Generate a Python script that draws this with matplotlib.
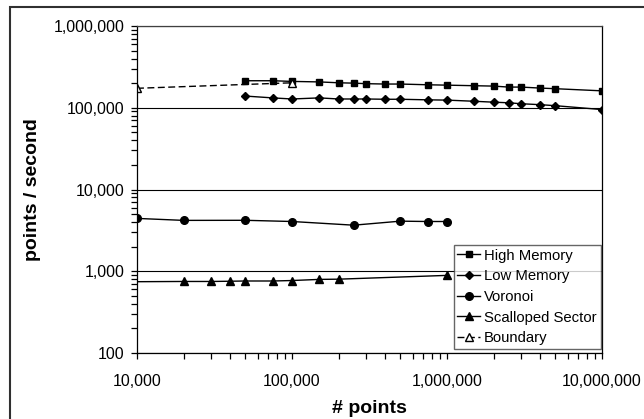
import matplotlib
matplotlib.use("Agg")
import matplotlib.pyplot as plt
from matplotlib.ticker import FuncFormatter, LogLocator, NullFormatter
from matplotlib.patches import Rectangle

plt.rcParams["font.family"] = ["Liberation Sans", "DejaVu Sans"]

# Data
hm_x = [50000, 75000, 100000, 150000, 200000, 250000, 300000, 400000, 500000,
        750000, 1000000, 1500000, 2000000, 2500000, 3000000, 4000000, 5000000, 10000000]
hm_y = [214000, 214000, 210000, 207000, 202000, 200000, 197000, 195000, 195000,
        191000, 189000, 186000, 184000, 179000, 179000, 174000, 171000, 161000]

lm_x = hm_x
lm_y = [139000, 132000, 128000, 132000, 128000, 128000, 128000, 127000, 127000,
        125000, 124000, 120000, 117000, 115000, 112000, 109000, 106000, 95000]

vor_x = [10000, 20000, 50000, 100000, 250000, 500000, 750000, 1000000]
vor_y = [4430, 4190, 4200, 4060, 3660, 4100, 4060, 4060]

ss_x = [5000, 20000, 30000, 40000, 50000, 75000, 100000, 150000, 200000, 1000000]
ss_y = [740, 750, 750, 755, 760, 760, 770, 795, 800, 890]

bd_x = [10000, 100000]
bd_y = [173000, 202000]

W, H = 644, 419
fig = plt.figure(figsize=(W / 100, H / 100), dpi=100)
ax = fig.add_axes([137 / W, 1 - 353 / H, (602 - 137) / W, (353 - 26) / H])

line_kw = dict(color="black", lw=1.0)
ax.plot(hm_x, hm_y, marker="s", ms=5, label="High Memory", **line_kw)
ax.plot(lm_x, lm_y, marker="D", ms=4, label="Low Memory", **line_kw)
ax.plot(vor_x, vor_y, marker="o", ms=5.5, label="Voronoi", **line_kw)
ax.plot(ss_x, ss_y, marker="^", ms=6, label="Scalloped Sector", **line_kw)
ax.plot(bd_x, bd_y, marker="^", ms=6, mfc="white", mec="black", ls=(0, (5, 2.5)),
        label="Boundary", color="black", lw=1.0)

ax.set_xscale("log")
ax.set_yscale("log")
ax.set_xlim(1e4, 1e7)
ax.set_ylim(100, 1e6)

fmt = FuncFormatter(lambda v, p: f"{v:,.0f}")
ax.xaxis.set_major_formatter(fmt)
ax.yaxis.set_major_formatter(fmt)
ax.xaxis.set_minor_locator(LogLocator(base=10, subs=range(2, 10)))
ax.yaxis.set_minor_locator(LogLocator(base=10, subs=range(2, 10)))
ax.xaxis.set_minor_formatter(NullFormatter())
ax.yaxis.set_minor_formatter(NullFormatter())

ax.tick_params(axis="both", which="both", direction="out", length=4, width=0.9,
               labelsize=11.5, color="black")
ax.tick_params(axis="x", pad=11)
ax.tick_params(axis="y", pad=5)

ax.grid(True, which="major", axis="y", color="black", lw=0.8)
for s in ax.spines.values():
    s.set_color("black")
    s.set_linewidth(0.9)
ax.spines["top"].set_color("#404040")

ax.set_xlabel("# points", fontsize=14, fontweight="bold", labelpad=8)
ax.set_ylabel("points / second", fontsize=14, fontweight="bold", labelpad=9)

leg = ax.legend(loc="lower right", bbox_to_anchor=((600.5 - 137) / 465, (353 - 349) / 327),
                fontsize=10.7, frameon=True, fancybox=False, handlelength=1.5,
                handletextpad=0.3, labelspacing=0.45, borderpad=0.25, borderaxespad=0)
leg.get_frame().set_edgecolor("#404040")
leg.get_frame().set_linewidth(1.0)

# outer chart border
fig.patches.append(Rectangle((10 / W, -0.05), 1.0, 1.05 - 7 / H, transform=fig.transFigure,
                             fill=False, edgecolor="#303030", lw=1.5))

fig.savefig("out.png", dpi=100)
